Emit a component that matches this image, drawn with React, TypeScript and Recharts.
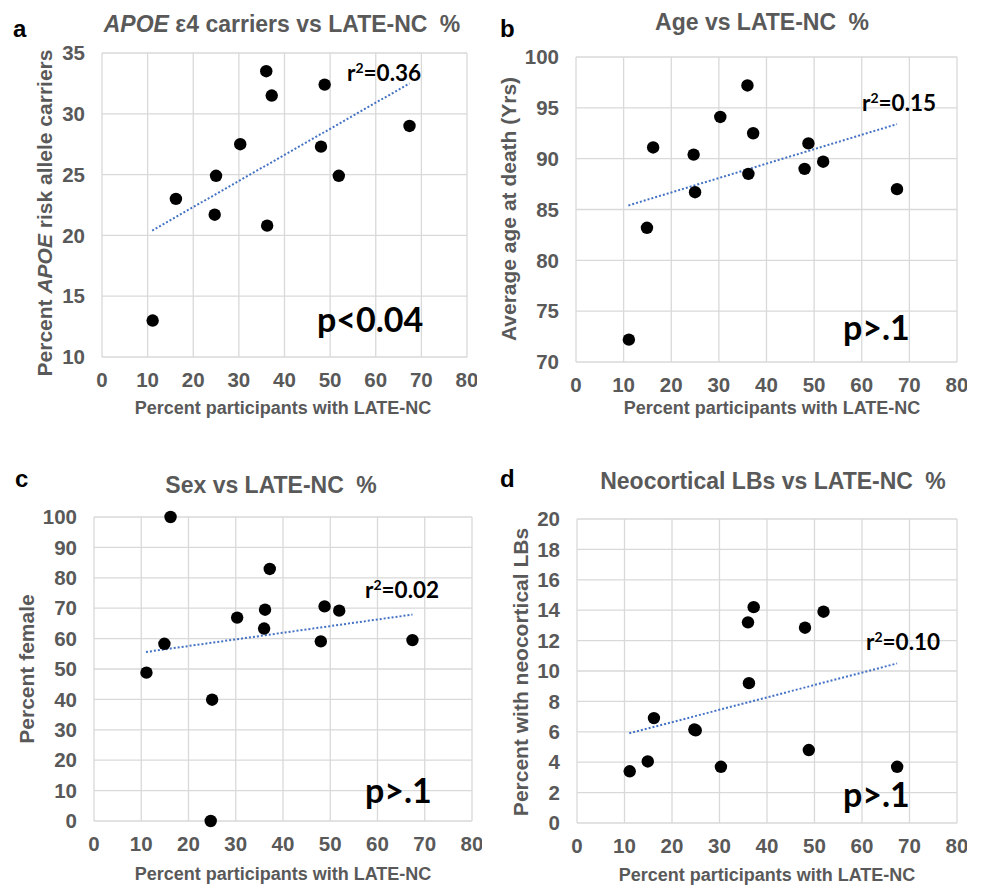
import React from "react";
import { ScatterChart, Scatter, XAxis, YAxis, CartesianGrid, ReferenceLine } from "recharts";

// percent of participants with LATE-NC per cohort (x for all panels)
const lateNC = [11.1, 14.9, 16.2, 24.7, 25.0, 30.3, 36.0, 36.2, 37.2, 48.0, 48.8, 51.9, 67.4];
const apoeCarriers = [13.0, null, 23.0, 21.7, 24.9, 27.5, 33.5, 20.8, 31.5, 27.3, 32.4, 24.9, 29.0];
const ageAtDeath = [72.2, 83.2, 91.1, 90.4, 86.7, 94.1, 97.2, 88.5, 92.5, 89.0, 91.5, 89.7, 87.0];
const pctFemale = [48.8, 58.3, 100, 0, 39.9, 66.9, 63.3, 69.5, 82.9, 59.1, 70.6, 69.2, 59.5];
const neoLBs = [3.4, 4.05, 6.9, 6.15, 6.1, 3.7, 13.2, 9.2, 14.2, 12.85, 4.8, 13.9, 3.7];

// linear trend end points
const trendX = [11, 67.4];
const trendApoe = [20.4, 32.5];
const trendAge = [85.4, 93.4];
const trendFemale = [55.6, 67.9];
const trendLBs = [5.9, 10.5];

const xTicks = [0, 10, 20, 30, 40, 50, 60, 70, 80];
const apoeTicks = [10, 15, 20, 25, 30, 35];
const ageTicks = [70, 75, 80, 85, 90, 95, 100];
const femaleTicks = [0, 10, 20, 30, 40, 50, 60, 70, 80, 90, 100];
const lbTicks = [0, 2, 4, 6, 8, 10, 12, 14, 16, 18, 20];

const GRAY = "#595959";
const ARIAL = "'Liberation Sans', Arial, sans-serif";
const CAL = "Lato, 'Open Sans', sans-serif";

const tickStyle = { fill: GRAY, fontSize: 20.5, fontWeight: 700, fontFamily: ARIAL };

const toPoints = (ys: (number | null)[]) =>
  lateNC.map((x, i) => ({ x, y: ys[i] })).filter((p) => p.y !== null);

const Dot = (props: any) => <circle cx={props.cx} cy={props.cy} r={6.2} fill="#000" />;

function Panel({ left, top, right, bottom, ys, trend, ticks }: any) {
  const w = right - left;
  const h = bottom - top;
  return (
    <div style={{ position: "absolute", left: left - 60, top: top - 20 }}>
      <ScatterChart width={w + 70} height={h + 60} margin={{ top: 20, right: 10, bottom: 0, left: 0 }}>
        <CartesianGrid stroke="#d9d9d9" strokeWidth={1.3} />
        <XAxis
          type="number"
          dataKey="x"
          domain={[0, 80]}
          ticks={xTicks}
          interval={0}
          axisLine={false}
          tickLine={false}
          tickSize={0}
          tickMargin={15}
          height={40}
          tick={tickStyle}
        />
        <YAxis
          type="number"
          dataKey="y"
          domain={[ticks[0], ticks[ticks.length - 1]]}
          ticks={ticks}
          interval={0}
          axisLine={false}
          tickLine={false}
          tickSize={0}
          tickMargin={17}
          width={60}
          tick={tickStyle}
        />
        <ReferenceLine
          segment={[
            { x: trendX[0], y: trend[0] },
            { x: trendX[1], y: trend[1] },
          ]}
          stroke="#4472C4"
          strokeWidth={2}
          strokeDasharray="2 2"
        />
        <Scatter data={toPoints(ys)} shape={Dot} isAnimationActive={false} />
      </ScatterChart>
    </div>
  );
}

function RSq({ x, y, v }: any) {
  return (
    <text x={x} y={y} fontFamily={CAL} fontWeight={700} fontSize={22.5} fill="#000">
      r<tspan fontSize={14} dy={-8}>2</tspan>
      <tspan dy={8}>={v}</tspan>
    </text>
  );
}

function PVal({ x, y, t }: any) {
  return (
    <text x={x} y={y} fontFamily={CAL} fontWeight={700} fontSize={34} fill="#000">
      {t}
    </text>
  );
}

function YTitle({ x, y, children }: any) {
  return (
    <text
      transform={`translate(${x},${y}) rotate(-90)`}
      textAnchor="middle"
      dominantBaseline="central"
      fontFamily={ARIAL}
      fontWeight={700}
      fontSize={21}
      fill={GRAY}
    >
      {children}
    </text>
  );
}

function XTitle({ x, y }: any) {
  return (
    <text x={x} y={y} textAnchor="middle" fontFamily={ARIAL} fontWeight={700} fontSize={18} fill={GRAY}>
      Percent participants with LATE-NC
    </text>
  );
}

function Title({ x, y, children }: any) {
  return (
    <text x={x} y={y} textAnchor="middle" fontFamily={ARIAL} fontWeight={700} fontSize={23} fill={GRAY}>
      {children}
    </text>
  );
}

function Letter({ x, y, t }: any) {
  return (
    <text x={x} y={y} fontFamily={ARIAL} fontWeight={700} fontSize={24} fill="#000">
      {t}
    </text>
  );
}

export default function App() {
  return (
    <div style={{ position: "absolute", left: 0, top: 0, width: 983, height: 885, background: "#fff" }}>
      <Panel left={102} top={53} right={467} bottom={357} ys={apoeCarriers} trend={trendApoe} ticks={apoeTicks} />
      <Panel left={576} top={57} right={957} bottom={362} ys={ageAtDeath} trend={trendAge} ticks={ageTicks} />
      <Panel left={94} top={517} right={472} bottom={821} ys={pctFemale} trend={trendFemale} ticks={femaleTicks} />
      <Panel left={577} top={519} right={957} bottom={823} ys={neoLBs} trend={trendLBs} ticks={lbTicks} />

      <svg width={983} height={885} style={{ position: "absolute", left: 0, top: 0, pointerEvents: "none" }}>
        <Letter x={13} y={37} t="a" />
        <Letter x={500} y={37} t="b" />
        <Letter x={15} y={487} t="c" />
        <Letter x={500} y={487} t="d" />

        <Title x={282} y={32}>
          <tspan fontStyle="italic">APOE</tspan> ε4 carriers vs LATE-NC <tspan dx={6}>%</tspan>
        </Title>
        <Title x={762} y={30}>
          Age vs LATE-NC <tspan dx={6}>%</tspan>
        </Title>
        <Title x={271} y={493}>
          Sex vs LATE-NC <tspan dx={6}>%</tspan>
        </Title>
        <Title x={773} y={489}>
          Neocortical LBs vs LATE-NC <tspan dx={6}>%</tspan>
        </Title>

        <YTitle x={44} y={213}>
          Percent <tspan fontStyle="italic">APOE</tspan> risk allele carriers
        </YTitle>
        <YTitle x={508} y={209}>Average age at death (Yrs)</YTitle>
        <YTitle x={26} y={669}>Percent female</YTitle>
        <YTitle x={520} y={672}>Percent with neocortical LBs</YTitle>

        <XTitle x={283} y={414} />
        <XTitle x={772} y={414} />
        <XTitle x={283} y={880} />
        <XTitle x={767} y={881} />

        <RSq x={347} y={81} v="0.36" />
        <RSq x={862} y={111} v="0.15" />
        <RSq x={365} y={598} v="0.02" />
        <RSq x={866} y={650} v="0.10" />

        <PVal x={317} y={332} t="p<0.04" />
        <PVal x={843} y={340} t="p>.1" />
        <PVal x={365} y={803} t="p>.1" />
        <PVal x={843} y={807} t="p>.1" />
      </svg>
    </div>
  );
}
